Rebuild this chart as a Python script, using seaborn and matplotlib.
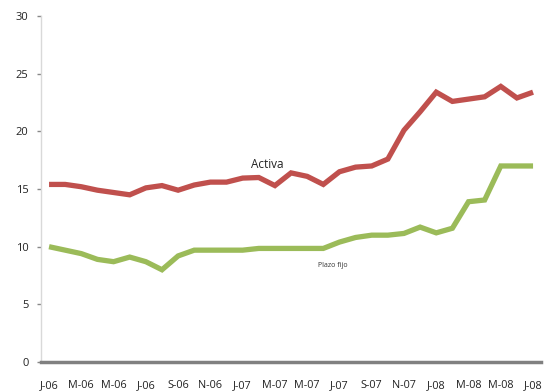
import matplotlib
matplotlib.use("Agg")
import matplotlib.pyplot as plt
import seaborn as sns
import pandas as pd
import numpy as np

tick_labels = ["J-06", "M-06", "M-06", "J-06", "S-06", "N-06", "J-07", "M-07",
               "M-07", "J-07", "S-07", "N-07", "J-08", "M-08", "M-08", "J-08"]

activa = [15.4, 15.4, 15.2, 14.9, 14.7, 14.5, 15.1, 15.3, 14.9, 15.35, 15.6,
          15.6, 15.95, 16.0, 15.3, 16.4, 16.1, 15.4, 16.5, 16.9, 17.0, 17.6,
          20.1, 21.7, 23.4, 22.6, 22.8, 23.0, 23.9, 22.9, 23.4]
plazo_fijo = [10.0, 9.7, 9.4, 8.9, 8.7, 9.1, 8.7, 8.0, 9.2, 9.7, 9.7, 9.7,
              9.7, 9.85, 9.85, 9.85, 9.85, 9.85, 10.4, 10.8, 11.0, 11.0, 11.15,
              11.7, 11.2, 11.6, 13.9, 14.05, 17.0, 17.0, 17.0]

months = np.arange(len(activa))
df = pd.DataFrame({
    "mes": np.concatenate([months, months]),
    "tasa": activa + plazo_fijo,
    "serie": ["Activa"] * len(activa) + ["Plazo fijo"] * len(plazo_fijo),
})

sns.set_style("white")
plt.rcParams['font.family'] = ['Open Sans', 'DejaVu Sans']

fig = plt.figure(figsize=(5.59, 3.92), dpi=100)
ax = fig.add_axes([0.0733, 0.0765, 0.8947, 0.8825])

sns.lineplot(data=df, x="mes", y="tasa", hue="serie",
             palette={"Activa": "#C0504D", "Plazo fijo": "#9BBB59"},
             linewidth=3.8, ax=ax, legend=False)
for l in ax.lines:
    l.set_solid_capstyle("butt")
    l.set_solid_joinstyle("miter")

ax.set_xlim(-0.5, 30.5)
ax.set_ylim(0, 30)
ax.set_xlabel("")
ax.set_ylabel("")

ax.set_xticks(np.arange(0, 31, 2))
ax.set_xticklabels(tick_labels, fontsize=7.8, color="#222222")
ax.set_xticks(np.arange(-0.5, 31, 2), minor=True)
ax.tick_params(axis="x", which="major", length=0, pad=13)
ax.tick_params(axis="x", which="minor", length=4, width=1, color="#999999", direction="inout")

ax.set_yticks(np.arange(0, 31, 5))
ax.tick_params(axis="y", which="major", length=3, width=1, color="#888888",
               labelsize=8, labelcolor="#222222", pad=6, left=True)

for s in ["top", "right"]:
    ax.spines[s].set_visible(False)
ax.spines["left"].set_color("#d9d9d9")
ax.spines["left"].set_linewidth(1)
ax.spines["bottom"].set_color("#808080")
ax.spines["bottom"].set_linewidth(2.5)

ax.text(13.5, 17.15, "Activa", fontsize=8.5, fontweight="medium", color="#222222",
        ha="center", va="center")
ax.text(17.6, 8.4, "Plazo fijo", fontsize=5, color="#333333", ha="center", va="center")

fig.savefig("out.png", dpi=100)
